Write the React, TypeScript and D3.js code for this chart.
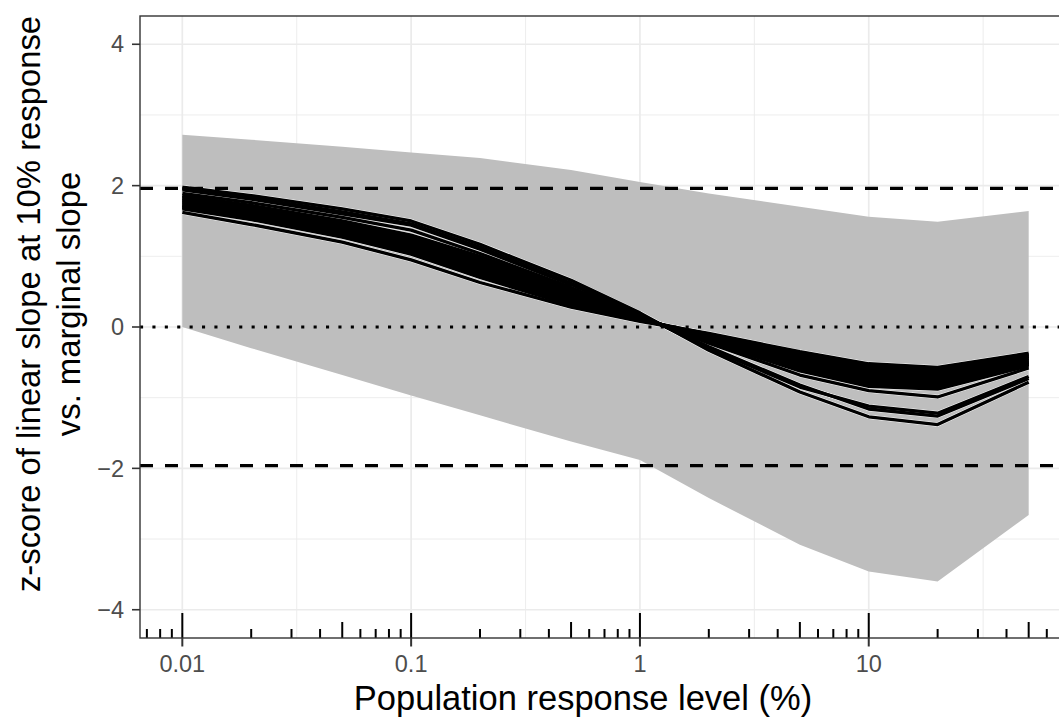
import React from 'react';
import * as d3 from 'd3';

// ---- data ----
const xLevels = [0.01, 0.02, 0.05, 0.1, 0.2, 0.5, 1, 2, 5, 10, 20, 50];
const bandUpper = [2.72, 2.65, 2.55, 2.47, 2.39, 2.22, 2.05, 1.89, 1.70, 1.56, 1.49, 1.64];
const bandLower = [0.0, -0.30, -0.68, -0.97, -1.25, -1.62, -1.88, -2.42, -3.08, -3.46, -3.60, -2.66];

const lineD = [1.62, 1.45, 1.20, 0.95, 0.63, 0.28, 0.08, -0.09, -0.35, -0.52, -0.57, -0.37];
const lineC11 = [1.67, 1.52, 1.27, 1.03, 0.70, 0.31, 0.10, -0.10, -0.38, -0.55, -0.60, -0.39];
const lineC10 = [1.69, 1.54, 1.29, 1.06, 0.73, 0.33, 0.10, -0.12, -0.40, -0.58, -0.63, -0.41];
const lineC9 = [1.70, 1.56, 1.32, 1.08, 0.76, 0.36, 0.11, -0.13, -0.43, -0.61, -0.66, -0.42];
const lineC8 = [1.72, 1.58, 1.34, 1.11, 0.79, 0.38, 0.11, -0.14, -0.45, -0.64, -0.68, -0.44];
const lineC7 = [1.74, 1.60, 1.36, 1.14, 0.82, 0.40, 0.12, -0.15, -0.48, -0.67, -0.71, -0.45];
const lineC6 = [1.76, 1.62, 1.39, 1.17, 0.85, 0.42, 0.12, -0.16, -0.50, -0.69, -0.74, -0.47];
const lineC5 = [1.78, 1.64, 1.41, 1.19, 0.88, 0.44, 0.13, -0.17, -0.52, -0.72, -0.77, -0.49];
const lineC4 = [1.80, 1.66, 1.43, 1.22, 0.91, 0.47, 0.13, -0.18, -0.55, -0.75, -0.80, -0.50];
const lineC3 = [1.82, 1.68, 1.46, 1.25, 0.94, 0.49, 0.13, -0.19, -0.57, -0.78, -0.83, -0.52];
const lineC2 = [1.84, 1.70, 1.48, 1.27, 0.97, 0.51, 0.14, -0.20, -0.60, -0.81, -0.85, -0.53];
const lineC1 = [1.86, 1.72, 1.50, 1.30, 1.00, 0.53, 0.14, -0.21, -0.62, -0.84, -0.88, -0.55];
const lineB = [1.89, 1.76, 1.55, 1.37, 1.04, 0.56, 0.15, -0.23, -0.68, -0.90, -0.99, -0.58];
const lineA3 = [1.94, 1.81, 1.60, 1.44, 1.10, 0.60, 0.17, -0.28, -0.82, -1.16, -1.26, -0.73];
const lineA2 = [1.96, 1.83, 1.63, 1.46, 1.13, 0.62, 0.18, -0.30, -0.85, -1.12, -1.22, -0.70];
const lineA1 = [1.98, 1.86, 1.67, 1.50, 1.17, 0.66, 0.20, -0.33, -0.92, -1.27, -1.38, -0.78];
const seriesList = [
  lineD, lineC11, lineC10, lineC9, lineC8, lineC7, lineC6, lineC5, lineC4, lineC3, lineC2, lineC1,
  lineB, lineA3, lineA2, lineA1,
];

const xTickValues = [0.01, 0.1, 1, 10];
const xTickLabels = ['0.01', '0.1', '1', '10'];
const yTickValues = [-4, -2, 0, 2, 4];
const yTickLabels = ['\u22124', '\u22122', '0', '2', '4'];
const yMinorValues = [-3, -1, 1, 3];
const dashedRefs = [-1.96, 1.96];
const dottedRef = 0;

const xTitle = 'Population response level (%)';
const yTitle1 = 'z-score of linear slope at 10% response';
const yTitle2 = 'vs. marginal slope';

const FONT = '"Liberation Sans", Arial, Helvetica, sans-serif';

export default function App() {
  const W = 1059;
  const H = 718;
  const left = 140, right = 1071, top = 16, bottom = 638;

  const lx0 = Math.log10(xLevels[0]);
  const lx1 = Math.log10(xLevels[xLevels.length - 1]);
  const exp = 0.05 * (lx1 - lx0);
  const x = d3.scaleLog().domain([10 ** (lx0 - exp), 10 ** (lx1 + exp)]).range([left, right]);
  const y = d3.scaleLinear().domain([-4.4, 4.4]).range([bottom, top]);

  const area = d3.area<number>()
    .x((_, i) => x(xLevels[i]))
    .y0((_, i) => y(bandLower[i]))
    .y1((_, i) => y(bandUpper[i]));

  const line = d3.line<number>()
    .x((_, i) => x(xLevels[i]))
    .y((d) => y(d));

  const xMinor: number[] = [];
  for (let k = -3; k <= 2; k++) xMinor.push(10 ** (k + 0.5));

  const logTicks: { v: number; kind: number }[] = [];
  for (let k = -3; k <= 2; k++) {
    for (let m = 1; m <= 9; m++) {
      const v = m * 10 ** k;
      const px = x(v);
      if (px >= left && px <= right) logTicks.push({ v, kind: m === 1 ? 0 : m === 5 ? 1 : 2 });
    }
  }
  const tickLen = [25, 16, 9];

  return (
    <svg width={W} height={H} style={{ position: 'absolute', left: 0, top: 0, background: '#fff' }} fontFamily={FONT}>
      <defs>
        <clipPath id="panel">
          <rect x={left} y={top} width={right - left} height={bottom - top} />
        </clipPath>
      </defs>
      <rect x={0} y={0} width={W} height={H} fill="#fff" />
      <g clipPath="url(#panel)">
        {/* minor grid */}
        {xMinor.map((v, i) => (
          <line key={'xm' + i} x1={x(v)} x2={x(v)} y1={top} y2={bottom} stroke="#EBEBEB" strokeWidth={0.9} />
        ))}
        {yMinorValues.map((v, i) => (
          <line key={'ym' + i} x1={left} x2={right} y1={y(v)} y2={y(v)} stroke="#EBEBEB" strokeWidth={0.9} />
        ))}
        {/* major grid */}
        {xTickValues.map((v, i) => (
          <line key={'xg' + i} x1={x(v)} x2={x(v)} y1={top} y2={bottom} stroke="#EBEBEB" strokeWidth={1.7} />
        ))}
        {yTickValues.map((v, i) => (
          <line key={'yg' + i} x1={left} x2={right} y1={y(v)} y2={y(v)} stroke="#EBEBEB" strokeWidth={1.7} />
        ))}
        {/* ribbon */}
        <path d={area(bandUpper) || ''} fill="#BEBEBE" />
        {/* lines: white halos first, then black strokes */}
        {seriesList.map((s, i) => (
          <path key={'h' + i} d={line(s) || ''} fill="none" stroke="#fff" strokeWidth={4.3} strokeLinejoin="round" />
        ))}
        {seriesList.map((s, i) => (
          <path key={'l' + i} d={line(s) || ''} fill="none" stroke="#000" strokeWidth={3.3} strokeLinejoin="round" />
        ))}
        {/* reference lines */}
        {dashedRefs.map((v, i) => (
          <line key={'d' + i} x1={left} x2={right} y1={y(v)} y2={y(v)} stroke="#000" strokeWidth={3.2} strokeDasharray="13 12" />
        ))}
        <line x1={left} x2={right} y1={y(dottedRef)} y2={y(dottedRef)} stroke="#000" strokeWidth={3.2} strokeDasharray="3.1 9.3" />
        {/* log ticks */}
        {logTicks.map((t, i) => (
          <line key={'lt' + i} x1={x(t.v)} x2={x(t.v)} y1={bottom} y2={bottom - tickLen[t.kind]} stroke="#000" strokeWidth={2} />
        ))}
      </g>
      {/* panel border */}
      <rect x={left} y={top} width={right - left} height={bottom - top} fill="none" stroke="#333333" strokeWidth={1.4} />
      {/* y axis */}
      {yTickValues.map((v, i) => (
        <g key={'yt' + i}>
          <line x1={left - 8} x2={left} y1={y(v)} y2={y(v)} stroke="#333333" strokeWidth={1.6} />
          <text x={124} y={y(v)} dy="0.35em" textAnchor="end" fontSize={23.5} fill="#4D4D4D">{yTickLabels[i]}</text>
        </g>
      ))}
      {/* x axis */}
      {xTickValues.map((v, i) => (
        <g key={'xt' + i}>
          <line x1={x(v)} x2={x(v)} y1={bottom} y2={bottom + 8.5} stroke="#333333" strokeWidth={2} />
          <text x={x(v)} y={672} textAnchor="middle" fontSize={23.5} fill="#4D4D4D">{xTickLabels[i]}</text>
        </g>
      ))}
      <text x={583} y={710} textAnchor="middle" fontSize={34.5} fill="#000">{xTitle}</text>
      <text transform="translate(40,304) rotate(-90)" textAnchor="middle" fontSize={32.8} fill="#000">{yTitle1}</text>
      <text transform="translate(80,304) rotate(-90)" textAnchor="middle" fontSize={32.8} fill="#000">{yTitle2}</text>
    </svg>
  );
}
